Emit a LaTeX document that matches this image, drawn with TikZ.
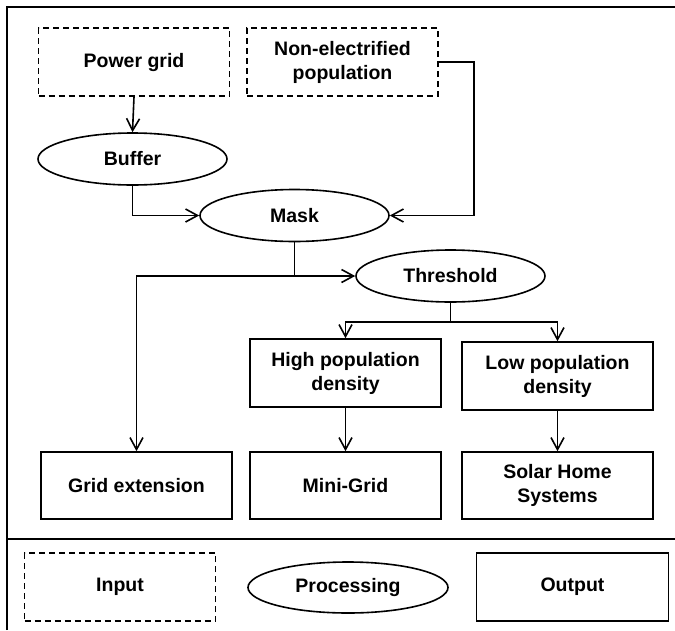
\documentclass[tikz,border=0pt]{standalone}
\usepackage{fontspec}
\setmainfont{Liberation Sans}
\usetikzlibrary{shapes.geometric,arrows.meta,calc}
\tikzset{
  base/.style={draw, line width=1.6pt, inner sep=0pt, align=center, font=\fontsize{19.5}{24}\selectfont\bfseries},
  inbox/.style={base, dashed, dash pattern=on 6pt off 4pt, minimum width=191pt, minimum height=68pt},
  outbox/.style={base, minimum width=191pt, minimum height=67pt},
  proc/.style={base, ellipse, minimum width=189pt, minimum height=52pt},
  conn/.style={line width=1.6pt},
  arr/.style={conn, -{Straight Barb[length=12pt,width=13pt,line width=1.6pt]}},
  frame/.style={line width=2.4pt}
}
\begin{document}
\begin{tikzpicture}[x=1pt,y=-1pt]
\useasboundingbox (0,0) rectangle (675,630);
% frame
\draw[frame] (7,630) -- (7,7) -- (675,7);
\draw[frame] (7,539) -- (675,539);
% nodes
\node[inbox] (pg) at (134,62) {Power grid};
\node[inbox] (ne) at (342.5,62) {Non-electrified\\population};
\node[proc] (buf) at (132.5,159) {Buffer};
\node[proc] (mask) at (294.5,215.5) {Mask};
\node[proc] (thr) at (450.5,276) {Threshold};
\node[outbox, minimum height=68pt] (high) at (345.5,373) {High population\\density};
\node[outbox, minimum height=68pt] (low) at (557.5,376) {Low population\\density};
\node[outbox] (grid) at (136.5,485.5) {Grid extension};
\node[outbox] (mini) at (345.5,485.5) {Mini-Grid};
\node[outbox] (shs) at (557.5,485.5) {Solar Home\\Systems};
% legend
\node[inbox] (lin) at (120,587) {Input};
\node[proc, minimum width=200pt, minimum height=51pt] (lproc) at (348,587.5) {Processing};
\node[outbox, minimum width=192pt, minimum height=68pt] (lout) at (572.5,587) {Output};
% connectors
\draw[arr] (pg.south) -- (buf.north);
\draw[arr] (buf.south) |- (mask.west);
\coordinate (nec) at ($(ne.east)+(35,0)$);
\draw[arr] (ne.east) -- (nec) |- (mask.east);
\coordinate (mj) at (mask.south |- thr.west);
\draw[arr] (mask.south) -- (mj) -- (thr.west);
\draw[arr] (mj) -| (grid.north);
\coordinate (br) at ($(thr.south)+(0,19)$);
\draw[conn] (thr.south) -- (br);
\draw[arr] (br) -| (high.north);
\draw[arr] (br) -| (low.north);
\draw[arr] (high.south) -- (mini.north);
\draw[arr] (low.south) -- (shs.north);
\end{tikzpicture}
\end{document}
